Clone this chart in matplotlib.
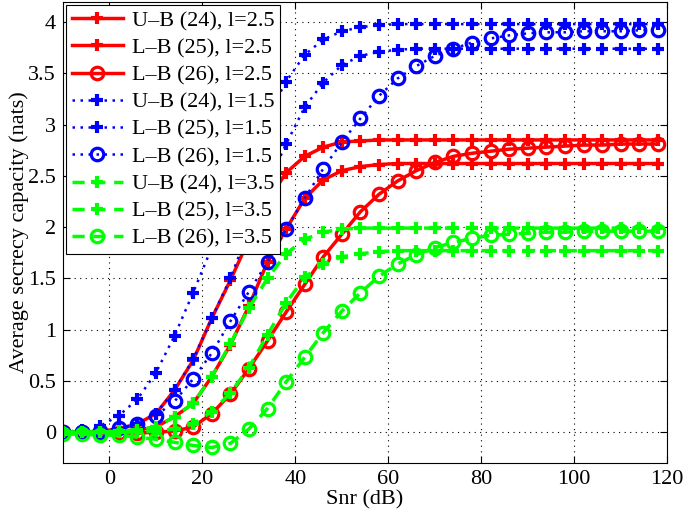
import numpy as np
import matplotlib
matplotlib.use('Agg')
import matplotlib.pyplot as plt

# SNR grid (dB), one point every 4 dB
snr = np.arange(-10, 119, 4)

# l = 2.5 (red, solid)
ub24_l25 = [0.0, 0.0, 0.01, 0.03, 0.08, 0.18, 0.41, 0.70, 1.11, 1.48, 1.88, 2.25, 2.53,
            2.69, 2.78, 2.83, 2.84, 2.85, 2.85, 2.85, 2.85, 2.85, 2.85, 2.85, 2.85,
            2.85, 2.85, 2.85, 2.85, 2.85, 2.85, 2.85, 2.85]
lb25_l25 = [0.0, 0.0, 0.0, 0.01, 0.02, 0.05, 0.15, 0.28, 0.54, 0.85, 1.23, 1.66, 1.98,
            2.28, 2.46, 2.55, 2.59, 2.61, 2.62, 2.62, 2.62, 2.62, 2.62, 2.62, 2.62,
            2.62, 2.62, 2.62, 2.62, 2.62, 2.62, 2.62, 2.62]
lb26_l25 = [0.0, 0.0, -0.01, -0.01, -0.01, 0.0, 0.01, 0.05, 0.18, 0.37, 0.62, 0.89, 1.17,
            1.44, 1.71, 1.93, 2.15, 2.32, 2.45, 2.55, 2.63, 2.69, 2.72, 2.74, 2.76,
            2.77, 2.78, 2.79, 2.80, 2.80, 2.81, 2.81, 2.81]

# l = 1.5 (blue, dotted)
ub24_l15 = [0.0, 0.02, 0.06, 0.16, 0.32, 0.58, 0.94, 1.36, 1.80, 2.25, 2.68, 3.08, 3.42,
            3.68, 3.83, 3.91, 3.95, 3.97, 3.98, 3.98, 3.98, 3.98, 3.98, 3.98, 3.98,
            3.98, 3.98, 3.98, 3.98, 3.98, 3.98, 3.98, 3.98]
lb25_l15 = [0.0, 0.0, 0.01, 0.03, 0.08, 0.18, 0.41, 0.71, 1.11, 1.50, 1.97, 2.42, 2.81,
            3.17, 3.41, 3.58, 3.67, 3.71, 3.73, 3.74, 3.74, 3.74, 3.74, 3.74, 3.74,
            3.74, 3.74, 3.74, 3.74, 3.74, 3.74, 3.74, 3.74]
lb26_l15 = [0.0, 0.0, 0.01, 0.04, 0.08, 0.16, 0.30, 0.52, 0.77, 1.08, 1.37, 1.66, 1.98,
            2.28, 2.57, 2.83, 3.06, 3.28, 3.45, 3.57, 3.67, 3.74, 3.80, 3.84, 3.87,
            3.89, 3.90, 3.90, 3.91, 3.91, 3.91, 3.92, 3.92]

# l = 3.5 (green, dashed)
ub24_l35 = [0.0, 0.0, 0.0, 0.01, 0.02, 0.05, 0.15, 0.28, 0.54, 0.86, 1.21, 1.50, 1.74,
            1.88, 1.95, 1.98, 1.99, 1.99, 1.99, 1.99, 1.99, 1.99, 1.99, 1.99, 1.99,
            1.99, 1.99, 1.99, 1.99, 1.99, 1.99, 1.99, 1.99]
lb25_l35 = [0.0, 0.0, 0.0, 0.0, 0.0, 0.01, 0.03, 0.08, 0.20, 0.38, 0.63, 0.95, 1.26,
            1.51, 1.64, 1.71, 1.74, 1.76, 1.77, 1.77, 1.77, 1.77, 1.77, 1.77, 1.77,
            1.77, 1.77, 1.77, 1.77, 1.77, 1.77, 1.77, 1.77]
lb26_l35 = [-0.02, -0.02, -0.03, -0.03, -0.05, -0.07, -0.10, -0.13, -0.15, -0.11, 0.03,
            0.23, 0.49, 0.73, 0.97, 1.18, 1.36, 1.52, 1.64, 1.73, 1.80, 1.85, 1.89,
            1.92, 1.93, 1.94, 1.95, 1.95, 1.96, 1.96, 1.96, 1.96, 1.96]

labels = ['U\u2013B (24), l=2.5', 'L\u2013B (25), l=2.5', 'L\u2013B (26), l=2.5',
          'U\u2013B (24), l=1.5', 'L\u2013B (25), l=1.5', 'L\u2013B (26), l=1.5',
          'U\u2013B (24), l=3.5', 'L\u2013B (25), l=3.5', 'L\u2013B (26), l=3.5']

xticks = [0, 20, 40, 60, 80, 100, 120]
yticks = [0, 0.5, 1, 1.5, 2, 2.5, 3, 3.5, 4]
ytick_labels = ['0', '0.5', '1', '1.5', '2', '2.5', '3', '3.5', '4']

plt.rcParams['font.family'] = ['Liberation Serif', 'DejaVu Serif']
plt.rcParams['font.size'] = 16

fig = plt.figure(figsize=(6.85, 5.16), dpi=100)
ax = fig.add_axes([0.092, 0.103, 0.882, 0.894])

red, blue, green = '#ff0000', '#0000ff', '#00ff00'
dot = (0, (1, 2.2))
dash = (0, (3.5, 2.5))
series = [
    (ub24_l25, red, '-', '+', 2.5),
    (lb25_l25, red, '-', '+', 2.5),
    (lb26_l25, red, '-', 'o', 2.5),
    (ub24_l15, blue, dot, '+', 1.8),
    (lb25_l15, blue, dot, '+', 1.8),
    (lb26_l15, blue, dot, 'o', 1.8),
    (ub24_l35, green, dash, '+', 2.5),
    (lb25_l35, green, dash, '+', 2.5),
    (lb26_l35, green, dash, 'o', 2.5),
]
for (vals, col, ls, mk, lw), lab in zip(series, labels):
    if mk == 'o':
        ax.plot(snr, vals, color=col, linestyle=ls, linewidth=lw, marker='o',
                markersize=9, markeredgewidth=2.3, markerfacecolor='none',
                markeredgecolor=col, label=lab)
    else:
        ax.plot(snr, vals, color=col, linestyle=ls, linewidth=lw, marker='+',
                markersize=9, markeredgewidth=3.0, markeredgecolor=col, label=lab)

ax.set_xlim(-10, 120)
ax.set_ylim(-0.3, 4.2)
ax.set_xticks(xticks)
ax.set_yticks(yticks)
ax.set_yticklabels(ytick_labels)
ax.tick_params(direction='in', top=True, right=True, length=5, labelsize=16, pad=5)
ax.grid(True, color='black', linestyle=(0, (1, 4)), linewidth=0.8)
ax.set_xlabel('Snr (dB)', fontsize=16, labelpad=1)
ax.set_ylabel('Average secrecy capacity (nats)', fontsize=16)
ax.yaxis.set_label_coords(-0.057, 0.5)

leg = ax.legend(loc='upper left', fontsize=16, handlelength=2.3, labelspacing=0.3,
                borderaxespad=0.15, fancybox=False, framealpha=1, edgecolor='black',
                handletextpad=0.4, borderpad=0.25)
leg.get_frame().set_linewidth(0.8)

fig.savefig('out.png', dpi=100)
